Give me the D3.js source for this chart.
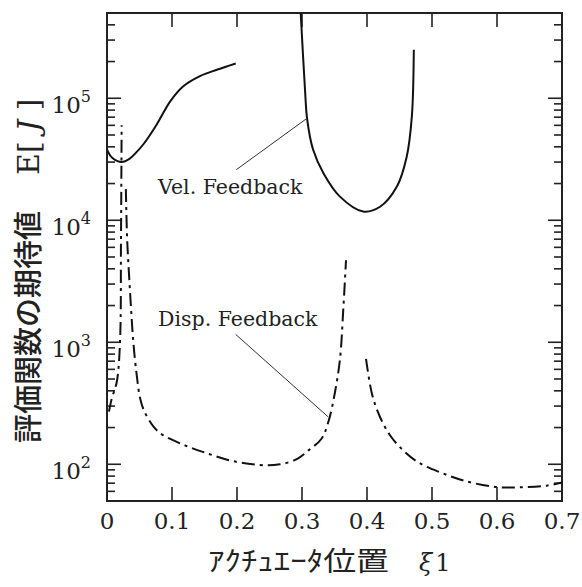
<!DOCTYPE html>
<html>
<head>
<meta charset="utf-8">
<script src="https://cdn.jsdelivr.net/npm/d3@7"></script>
<style>
  html, body { margin: 0; padding: 0; background: #fff; }
  svg { display: block; }
  .serif { font-family: 'DejaVu Serif', serif; fill: #222; }
  .jp { font-family: 'Noto Sans CJK JP', sans-serif; fill: #222; }
</style>
</head>
<body>
<div id="chart"></div>
<script>
// x: actuator position xi1, y: expected value of cost function E[J]
const xTicks = [0, 0.1, 0.2, 0.3, 0.4, 0.5, 0.6, 0.7]
const yTickExps = [2, 3, 4, 5]

// velocity feedback (solid), two branches
const velLeftX = [0, 0.008, 0.0226, 0.035, 0.045, 0.056, 0.0765, 0.097, 0.117, 0.143, 0.17, 0.198]
const velLeftE = [3.8e4, 3.25e4, 3.0e4, 3.2e4, 3.6e4, 4.2e4, 6.1e4, 9.4e4, 1.25e5, 1.52e5, 1.72e5, 1.93e5]
const velRightX = [0.298, 0.3046, 0.308, 0.317, 0.333, 0.358, 0.394, 0.42, 0.446, 0.461, 0.469, 0.472]
const velRightE = [5e5, 1.18e5, 6.7e4, 3.8e4, 2.43e4, 1.57e4, 1.18e4, 1.29e4, 1.89e4, 3.3e4, 7.1e4, 2.5e5]

// displacement feedback (dash-dot), three branches
const dispAX = [0.003, 0.0072, 0.015, 0.02, 0.0215, 0.0225]
const dispAE = [270, 344, 473, 1000, 6700, 6e4]
const dispBX = [0.029, 0.031, 0.034, 0.037, 0.0405, 0.0457, 0.0508, 0.056, 0.071, 0.085, 0.117, 0.15, 0.194, 0.246, 0.266, 0.292, 0.31, 0.33, 0.3405, 0.3508, 0.3585, 0.3636, 0.3677]
const dispBE = [1.8e4, 7e3, 3.5e3, 1.9e3, 1.0e3, 540, 350, 283, 205, 175, 145, 125, 106, 98, 100, 110, 130, 162, 222, 391, 735, 1900, 4700]
const dispCX = [0.3985, 0.4077, 0.42, 0.4354, 0.4538, 0.4785, 0.5123, 0.5508, 0.6, 0.643, 0.678, 0.7]
const dispCE = [731, 377, 244, 173, 133, 104, 86, 73, 65, 65, 67, 71]

// annotations: label anchor and leader line (data units)
const velLabel = { text: 'Vel. Feedback', x: 0.0785, e: 1.63e4, from: [0.199, 2.6e4], to: [0.3077, 6.85e4] }
const dispLabel = { text: 'Disp. Feedback', x: 0.0785, e: 1.36e3, from: [0.198, 1.16e3], to: [0.3405, 244] }

const width = 582
const height = 587
const margin = { top: 13, right: 20, bottom: 86, left: 107 }
const iw = width - margin.left - margin.right
const ih = height - margin.top - margin.bottom

const svg = d3.select('#chart')
  .append('svg')
  .attr('width', width)
  .attr('height', height)

const x = d3.scaleLinear().domain([0, 0.7]).range([margin.left, margin.left + iw])
const y = d3.scaleLog().domain([50, 5e5]).range([margin.top + ih, margin.top])

svg.append('clipPath').attr('id', 'plot')
  .append('rect')
  .attr('x', margin.left).attr('y', margin.top)
  .attr('width', iw).attr('height', ih)

// ticks: inward on all four sides
const majorLen = 14
const minorLen = 8
const minorVals = []
yTickExps.concat([1]).forEach(k => {
  for (let m = 2; m <= 9; m++) {
    const v = m * Math.pow(10, k)
    if (v > 50 && v < 5e5) minorVals.push(v)
  }
})
const tickG = svg.append('g').attr('stroke', '#222').attr('stroke-width', 1.6)
xTicks.slice(1, -1).forEach(t => {
  tickG.append('line').attr('x1', x(t)).attr('x2', x(t))
    .attr('y1', y.range()[0]).attr('y2', y.range()[0] - majorLen)
  tickG.append('line').attr('x1', x(t)).attr('x2', x(t))
    .attr('y1', y.range()[1]).attr('y2', y.range()[1] + majorLen)
})
yTickExps.forEach(k => {
  const v = Math.pow(10, k)
  tickG.append('line').attr('x1', x(0)).attr('x2', x(0) + majorLen).attr('y1', y(v)).attr('y2', y(v))
  tickG.append('line').attr('x1', x(0.7)).attr('x2', x(0.7) - majorLen).attr('y1', y(v)).attr('y2', y(v))
})
minorVals.forEach(v => {
  tickG.append('line').attr('x1', x(0)).attr('x2', x(0) + minorLen).attr('y1', y(v)).attr('y2', y(v))
  tickG.append('line').attr('x1', x(0.7)).attr('x2', x(0.7) - minorLen).attr('y1', y(v)).attr('y2', y(v))
})

// frame
svg.append('rect')
  .attr('x', margin.left).attr('y', margin.top)
  .attr('width', iw).attr('height', ih)
  .attr('fill', 'none').attr('stroke', '#222').attr('stroke-width', 2)

// tick labels
svg.selectAll('.xlab').data(xTicks).enter()
  .append('text')
  .attr('class', 'serif')
  .attr('x', d => x(d))
  .attr('y', y.range()[0] + 28)
  .attr('text-anchor', 'middle')
  .attr('font-size', 23)
  .text(d => d)

const ylab = svg.selectAll('.ylab').data(yTickExps).enter()
  .append('text')
  .attr('class', 'serif')
  .attr('x', x(0) - 16)
  .attr('y', d => y(Math.pow(10, d)) + 15)
  .attr('text-anchor', 'end')
  .attr('font-size', 23)
ylab.append('tspan').text('10')
ylab.append('tspan').attr('dy', -11).attr('font-size', 16).text(d => d)

// curves
const line = d3.line()
  .x(d => x(d[0]))
  .y(d => y(d[1]))
  .curve(d3.curveCatmullRom.alpha(0.5))

const plotG = svg.append('g').attr('clip-path', 'url(#plot)')
const zip = (xs, es) => xs.map((v, i) => [v, es[i]])

;[zip(velLeftX, velLeftE), zip(velRightX, velRightE)].forEach(pts => {
  plotG.append('path').datum(pts)
    .attr('d', line)
    .attr('fill', 'none')
    .attr('stroke', '#111')
    .attr('stroke-width', 2)
})
;[zip(dispAX, dispAE), zip(dispBX, dispBE), zip(dispCX, dispCE)].forEach(pts => {
  plotG.append('path').datum(pts)
    .attr('d', line)
    .attr('fill', 'none')
    .attr('stroke', '#111')
    .attr('stroke-width', 2)
    .attr('stroke-dasharray', '13,5,3,5')
})

// annotations
;[velLabel, dispLabel].forEach(a => {
  svg.append('line')
    .attr('x1', x(a.from[0])).attr('y1', y(a.from[1]))
    .attr('x2', x(a.to[0])).attr('y2', y(a.to[1]))
    .attr('stroke', '#333').attr('stroke-width', 1)
  svg.append('text')
    .attr('class', 'serif')
    .attr('x', x(a.x))
    .attr('y', y(a.e))
    .attr('font-size', 20.5)
    .text(a.text)
})

// axis titles
const ytitle = svg.append('text')
  .attr('transform', 'translate(39,443) rotate(-90)')
  .attr('font-size', 29)
ytitle.append('tspan').attr('class', 'jp').attr('font-weight', 500).text('評価関数の期待値')
ytitle.append('tspan').attr('class', 'serif').attr('dx', 36).attr('font-size', 30).text('E[ ')
ytitle.append('tspan').attr('class', 'serif').attr('font-size', 30).attr('font-style', 'italic').text('J')
ytitle.append('tspan').attr('class', 'serif').attr('font-size', 30).text(' ]')

svg.append('text')
  .attr('class', 'jp')
  .attr('x', 208)
  .attr('y', 571)
  .attr('font-size', 27)
  .attr('textLength', 181)
  .attr('lengthAdjust', 'spacingAndGlyphs')
  .text('ｱｸﾁｭｴｰﾀ位置')
const xtitle = svg.append('text')
  .attr('class', 'serif')
  .attr('x', 419)
  .attr('y', 571)
  .attr('font-size', 24)
xtitle.append('tspan').attr('font-style', 'italic').text('ξ')
xtitle.append('tspan').attr('dx', 3).text('1')
</script>
</body>
</html>
